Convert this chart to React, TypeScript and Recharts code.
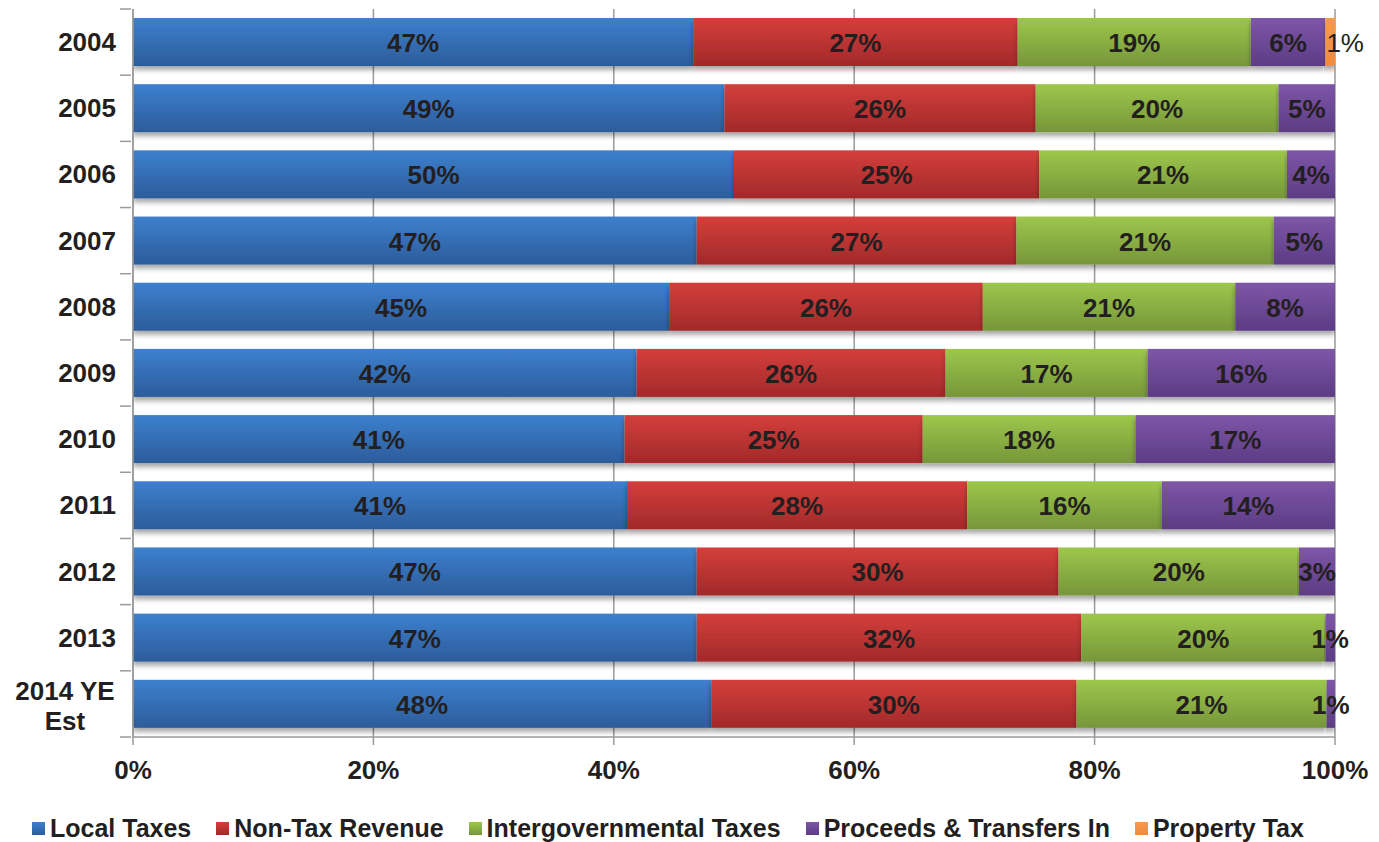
import React from 'react';
import { BarChart, Bar, XAxis, YAxis, CartesianGrid, Legend, LabelList } from 'recharts';

const YEARS = ['2004', '2005', '2006', '2007', '2008', '2009', '2010', '2011', '2012', '2013', '2014 YE Est'];
const LOCAL_TAXES = [46.6, 49.2, 50.0, 46.9, 44.6, 41.9, 40.9, 41.1, 46.9, 46.9, 48.1];
const NON_TAX = [27.0, 25.9, 25.4, 26.6, 26.1, 25.7, 24.8, 28.3, 30.1, 32.0, 30.4];
const INTERGOV = [19.4, 20.2, 20.6, 21.4, 21.0, 16.8, 17.7, 16.2, 20.0, 20.3, 20.8];
const PROCEEDS = [6.2, 4.7, 4.0, 5.1, 8.3, 15.6, 16.6, 14.4, 3.0, 0.8, 0.7];
const PROPERTY_TAX = [0.8, 0, 0, 0, 0, 0, 0, 0, 0, 0, 0];
const X_TICKS = [0, 20, 40, 60, 80, 100];

const SERIES = [
  { key: 'local', name: 'Local Taxes', top: '#3D80CE', bottom: '#2C5C9B' },
  { key: 'nontax', name: 'Non-Tax Revenue', top: '#D43F3B', bottom: '#A2292A' },
  { key: 'intergov', name: 'Intergovernmental Taxes', top: '#9DC74B', bottom: '#76963A' },
  { key: 'proceeds', name: 'Proceeds & Transfers In', top: '#7E56A8', bottom: '#5D3C84' },
  { key: 'property', name: 'Property Tax', top: '#F89A4C', bottom: '#F18B3E' },
];

const data = YEARS.map((year, i) => ({
  year,
  local: LOCAL_TAXES[i],
  nontax: NON_TAX[i],
  intergov: INTERGOV[i],
  proceeds: PROCEEDS[i],
  property: PROPERTY_TAX[i],
}));

const TEXT = '#231F20';
const AXIS = '#9A9A9A';
const FONT = '"Liberation Sans", Arial, sans-serif';
const BAND = 728 / YEARS.length;

const YTick = (props: any) => {
  const { x, y, payload, index } = props;
  const lines = payload.value === '2014 YE Est' ? ['2014 YE', 'Est'] : [payload.value];
  const axisX = x + 6;
  return (
    <g>
      <line x1={axisX - 11} x2={axisX} y1={y - BAND / 2} y2={y - BAND / 2} stroke={AXIS} strokeWidth={1.5} />
      {index === YEARS.length - 1 && (
        <line x1={axisX - 11} x2={axisX} y1={y + BAND / 2} y2={y + BAND / 2} stroke={AXIS} strokeWidth={1.5} />
      )}
      {lines.length === 1 ? (
        <text x={x - 9} y={y} textAnchor="end" dominantBaseline="central" fill={TEXT} fontSize={26} fontWeight="bold" fontFamily={FONT}>
          {lines[0]}
        </text>
      ) : (
        <text x={65} y={y} textAnchor="middle" fill={TEXT} fontSize={26} fontWeight="bold" fontFamily={FONT}>
          <tspan x={65} dy={-4}>{lines[0]}</tspan>
          <tspan x={65} dy={30}>{lines[1]}</tspan>
        </text>
      )}
    </g>
  );
};

const makeLabel = (bold: boolean, start: boolean) => (props: any) => {
  const { x, y, width, height, value } = props;
  if (!value) return null;
  return (
    <text
      x={start ? x + 1 : x + width / 2}
      y={y + height / 2 + 1}
      textAnchor={start ? 'start' : 'middle'}
      dominantBaseline="central"
      fill={TEXT}
      fontSize={26}
      fontWeight={bold ? 'bold' : 'normal'}
      fontFamily={FONT}
    >
      {Math.round(value)}%
    </text>
  );
};

const ShadowRect = (props: any) => {
  const { x, y, width, height, fill } = props;
  if (!width || width <= 0) return null;
  return <rect x={x} y={y} width={width} height={height} fill={fill} filter="url(#barShadow)" />;
};

const LegendContent = () => (
  <div style={{ height: 55, display: 'flex', alignItems: 'center', paddingTop: 27, paddingLeft: 32, boxSizing: 'border-box', gap: 25, fontFamily: FONT }}>
    {SERIES.map((s) => (
      <div key={s.key} style={{ display: 'flex', alignItems: 'center', gap: 5 }}>
        <span style={{ width: 13, height: 13, background: `linear-gradient(${s.top}, ${s.bottom})`, display: 'inline-block' }} />
        <span style={{ fontSize: 25, fontWeight: 'bold', color: TEXT, whiteSpace: 'nowrap' }}>{s.name}</span>
      </div>
    ))}
  </div>
);

export default function App() {
  return (
    <div style={{ position: 'absolute', left: 0, top: 0, width: 1379, height: 842, background: '#fff' }}>
      <BarChart
        width={1379}
        height={842}
        data={data}
        layout="vertical"
        margin={{ top: 9, right: 44, left: 0, bottom: 0 }}
        barSize={48}
      >
        <defs>
          {SERIES.map((s) => (
            <linearGradient key={s.key} id={`grad-${s.key}`} x1="0" y1="0" x2="0" y2="1">
              <stop offset="0%" stopColor={s.top} />
              <stop offset="100%" stopColor={s.bottom} />
            </linearGradient>
          ))}
          <filter id="barShadow" x="-5%" y="-20%" width="110%" height="160%">
            <feDropShadow dx={0} dy={4} stdDeviation={2.5} floodColor="#000" floodOpacity={0.35} />
          </filter>
        </defs>
        <CartesianGrid horizontal={false} stroke={AXIS} strokeWidth={1.5} />
        <XAxis
          type="number"
          domain={[0, 100]}
          ticks={X_TICKS}
          allowDataOverflow
          tickFormatter={(v) => `${v}%`}
          height={50}
          stroke={AXIS}
          strokeWidth={1.5}
          tickSize={8}
          tickMargin={16}
          tick={{ fill: TEXT, fontSize: 26, fontWeight: 'bold', fontFamily: FONT }}
        />
        <YAxis
          type="category"
          dataKey="year"
          width={133}
          stroke={AXIS}
          strokeWidth={1.5}
          tickLine={false}
          tick={<YTick />}
          interval={0}
        />
        <Legend verticalAlign="bottom" height={55} content={<LegendContent />} />
        {SERIES.map((s) => (
          <Bar
            key={s.key}
            dataKey={s.key}
            name={s.name}
            stackId="a"
            fill={`url(#grad-${s.key})`}
            shape={<ShadowRect />}
            isAnimationActive={false}
          >
            <LabelList dataKey={s.key} content={makeLabel(s.key !== 'property', s.key === 'property')} />
          </Bar>
        ))}
      </BarChart>
    </div>
  );
}
